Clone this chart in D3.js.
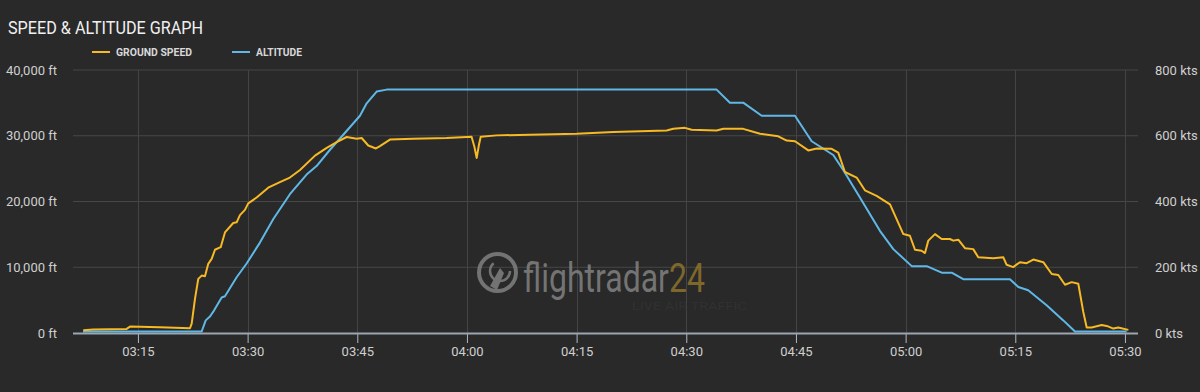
<!DOCTYPE html>
<html>
<head>
<meta charset="utf-8">
<script src="https://cdn.jsdelivr.net/npm/d3@7"></script>
<style>
  html, body { margin: 0; padding: 0; background: #292929; }
  svg { display: block; font-family: Roboto, "Noto Sans", sans-serif; }
</style>
</head>
<body>
<svg width="1200" height="392"></svg>
<script>
// ground speed samples (time, kts) read from the track
var speedTimes = ['03:07:31','03:08:53','03:13:27','03:13:55','03:18:01','03:22:07','03:22:21','03:22:48',
    '03:23:15','03:23:43','03:24:10','03:24:37','03:25:05','03:25:32','03:26:19','03:26:54','03:28:02',
    '03:28:30','03:28:57','03:29:38','03:30:05','03:31:14','03:32:49','03:34:25','03:35:47','03:37:10',
    '03:39:13','03:40:49','03:42:11','03:43:33','03:44:55','03:45:36','03:46:30','03:47:33','03:48:06',
    '03:49:28','03:52:39','03:57:13','04:00:38','04:01:00','04:01:20','04:01:39','04:01:53','04:04:04',
    '04:08:37','04:15:00','04:20:01','04:27:19','04:28:13','04:29:49','04:30:44','04:34:09','04:35:04',
    '04:37:47','04:40:05','04:42:35','04:43:44','04:44:52','04:46:41','04:47:50','04:49:53','04:50:47',
    '04:51:42','04:53:18','04:54:26','04:56:02','04:57:52','04:59:41','05:00:35','05:01:17','05:02:11',
    '05:02:39','05:03:06','05:04:01','05:04:56','05:06:04','05:06:31','05:07:12','05:08:07','05:09:15',
    '05:09:56','05:11:59','05:13:22','05:13:49','05:14:43','05:15:38','05:16:33','05:17:28','05:18:50',
    '05:19:59','05:20:53','05:21:48','05:22:43','05:23:37','05:24:18','05:24:46','05:25:27','05:26:49',
    '05:27:30','05:28:25','05:29:05','05:30:28'];
var speedKts = [4, 6, 8, 15, 13, 10, 24, 100,
    161, 171, 169, 207, 222, 250, 258, 303, 332,
    334, 356, 372, 392, 410, 440, 457, 471, 494,
    538, 562, 579, 595, 590, 592, 569, 560, 567,
    587, 590, 592, 596, 567, 531, 572, 596, 600,
    602, 605, 610, 615, 620, 623, 617, 615, 620,
    620, 605, 597, 584, 582, 554, 560, 559, 547,
    488, 471, 432, 415, 389, 298, 293, 250, 247,
    240, 278, 298, 283, 283, 278, 281, 255, 252,
    227, 224, 227, 204, 197, 212, 209, 220, 212,
    176, 173, 143, 151, 146, 60, 12, 12, 20,
    17, 9, 12, 5];

// altitude samples (time, ft)
var altTimes = ['03:07:29','03:23:43','03:24:16','03:24:51','03:25:24','03:26:27','03:26:54','03:28:30',
    '03:29:52','03:31:41','03:33:31','03:35:47','03:38:04','03:39:26','03:41:16','03:43:05','03:45:22',
    '03:46:17','03:47:39','03:49:01','04:34:09','04:35:58','04:37:47','04:40:19','04:44:52','04:47:09',
    '04:50:06','04:51:28','04:53:45','04:56:29','04:58:19','05:00:50','05:02:53','05:04:56','05:06:18',
    '05:07:53','05:14:16','05:15:25','05:16:46','05:19:17','05:21:34','05:23:10','05:30:14'];
var altFeet = [0, 0, 1700, 2300, 3200, 5200, 5400, 8300,
    10400, 13600, 17200, 21000, 24000, 25300, 27800, 30100, 33000,
    34900, 36700, 37000, 37000, 35000, 35000, 33000, 33000, 29100,
    27000, 24700, 20500, 15400, 12600, 10000, 10000, 9000, 9000,
    8000, 8000, 6800, 6300, 4000, 1700, 0, 0];

var timeTicks = ['03:15','03:30','03:45','04:00','04:15','04:30','04:45','05:00','05:15','05:30'];
var altTicks = [0, 10000, 20000, 30000, 40000];
var speedTicks = [0, 200, 400, 600, 800];

var svg = d3.select('svg');
var parseTime = d3.timeParse('%H:%M:%S');
var parseTick = d3.timeParse('%H:%M');

var plot = {l: 73, r: 1138, t: 70, b: 333};

var x = d3.scaleTime()
    .domain([parseTime('03:06:07'), parseTime('05:31:47')])
    .range([plot.l, plot.r]);
var yAlt = d3.scaleLinear().domain([0, 40000]).range([plot.b - 1.5, plot.t]);
var ySpd = d3.scaleLinear().domain([0, 800]).range([plot.b - 1.5, plot.t]);
var yGrid = d3.scaleLinear().domain([0, 40000]).range([plot.b, plot.t]);

// title
svg.append('text')
    .attr('x', 8).attr('y', 34)
    .attr('fill', '#f0f0f0')
    .style('font-size', '18px')
    .attr('textLength', 195).attr('lengthAdjust', 'spacingAndGlyphs')
    .text('SPEED & ALTITUDE GRAPH');

// legend
var legend = [
    {label: 'GROUND SPEED', color: '#f7b924', x: 92, w: 76},
    {label: 'ALTITUDE', color: '#5fb8e6', x: 232, w: 46}
];
var lg = svg.selectAll('.legend').data(legend).enter().append('g');
lg.append('line')
    .attr('x1', function(d) { return d.x; })
    .attr('x2', function(d) { return d.x + 18; })
    .attr('y1', 52).attr('y2', 52)
    .attr('stroke', function(d) { return d.color; })
    .attr('stroke-width', 2);
lg.append('text')
    .attr('x', function(d) { return d.x + 24; })
    .attr('y', 56)
    .attr('fill', '#d8d8d8')
    .style('font-size', '11.5px').style('font-weight', 'bold')
    .attr('textLength', function(d) { return d.w; })
    .attr('lengthAdjust', 'spacingAndGlyphs')
    .text(function(d) { return d.label; });

// horizontal grid
svg.append('g')
    .selectAll('line').data(altTicks.slice(1)).enter().append('line')
    .attr('x1', plot.l).attr('x2', plot.r)
    .attr('y1', function(d) { return yGrid(d); })
    .attr('y2', function(d) { return yGrid(d); })
    .attr('stroke', '#474747').attr('stroke-width', 1);

// vertical grid
svg.append('g')
    .selectAll('line').data(timeTicks).enter().append('line')
    .attr('x1', function(d) { return Math.round(x(parseTick(d))) + 0.5; })
    .attr('x2', function(d) { return Math.round(x(parseTick(d))) + 0.5; })
    .attr('y1', plot.t).attr('y2', plot.b)
    .attr('stroke', '#444').attr('stroke-width', 1);

// watermark
var wm = svg.append('g').attr('opacity', 0.85);
wm.append('circle').attr('cx', 497.5).attr('cy', 272.5).attr('r', 18.5)
    .attr('fill', 'none').attr('stroke', '#808080').attr('stroke-width', 4);
wm.append('circle').attr('cx', 500).attr('cy', 271).attr('r', 10)
    .attr('fill', 'none').attr('stroke', '#808080').attr('stroke-width', 2.5)
    .attr('stroke-dasharray', '40 30');
wm.append('path')
    .attr('d', 'M500,268 L504,273 L497,290 L490,286 Z')
    .attr('fill', '#808080');
// logo word: one text, squeezed horizontally
var logo = wm.append('text')
    .attr('transform', 'translate(523,292) scale(0.8,1)')
    .style('font-size', '40px');
logo.append('tspan').attr('fill', '#828282').text('flightradar');
logo.append('tspan').attr('fill', '#8f722c').text('24');
wm.append('text')
    .attr('x', 632).attr('y', 310)
    .attr('fill', '#333333')
    .style('font-size', '11px')
    .attr('textLength', 115).attr('lengthAdjust', 'spacingAndGlyphs')
    .text('LIVE AIR TRAFFIC');

// left axis labels
var leftAxis = d3.axisLeft(yGrid)
    .tickValues(altTicks)
    .tickSize(0).tickPadding(0)
    .tickFormat(function(d) { return d3.format(',')(d) + ' ft'; });
var gl = svg.append('g').attr('transform', 'translate(57,0)').call(leftAxis);
gl.select('.domain').remove();
gl.selectAll('text').attr('fill', '#cfcfcf').style('font-size', '13px')
    .style('font-family', 'Roboto, sans-serif');

// right axis labels
var rightAxis = d3.axisRight(d3.scaleLinear().domain([0, 800]).range([plot.b, plot.t]))
    .tickValues(speedTicks)
    .tickSize(0).tickPadding(0)
    .tickFormat(function(d) { return d + ' kts'; });
var gr = svg.append('g').attr('transform', 'translate(1155,0)').call(rightAxis);
gr.select('.domain').remove();
gr.selectAll('text').attr('fill', '#cfcfcf').style('font-size', '13px')
    .style('font-family', 'Roboto, sans-serif');

// series lines
var altData = altTimes.map(function(t, i) { return {t: parseTime(t), v: altFeet[i]}; });
var spdData = speedTimes.map(function(t, i) { return {t: parseTime(t), v: speedKts[i]}; });

// bottom axis
var bottomAxis = d3.axisBottom(x)
    .tickValues(timeTicks.map(parseTick))
    .tickSize(10).tickPadding(4)
    .tickFormat(d3.timeFormat('%H:%M'));
var gb = svg.append('g').attr('transform', 'translate(0,' + plot.b + ')').call(bottomAxis);
gb.select('.domain').remove();
gb.selectAll('line').attr('stroke', '#b0b8c0');
gb.selectAll('text').attr('fill', '#cfcfcf').style('font-size', '13px')
    .style('font-family', 'Roboto, sans-serif');
svg.append('line')
    .attr('x1', plot.l).attr('x2', plot.r)
    .attr('y1', plot.b + 0.5).attr('y2', plot.b + 0.5)
    .attr('stroke', '#9aa6b2').attr('stroke-width', 2);

svg.append('path')
    .datum(altData)
    .attr('fill', 'none')
    .attr('stroke', '#5fb8e6')
    .attr('stroke-width', 2)
    .attr('stroke-linejoin', 'round')
    .attr('d', d3.line()
        .x(function(d) { return x(d.t); })
        .y(function(d) { return yAlt(d.v); }));

svg.append('path')
    .datum(spdData)
    .attr('fill', 'none')
    .attr('stroke', '#f7b924')
    .attr('stroke-width', 2)
    .attr('stroke-linejoin', 'round')
    .attr('d', d3.line()
        .x(function(d) { return x(d.t); })
        .y(function(d) { return ySpd(d.v); }));
</script>
</body>
</html>
